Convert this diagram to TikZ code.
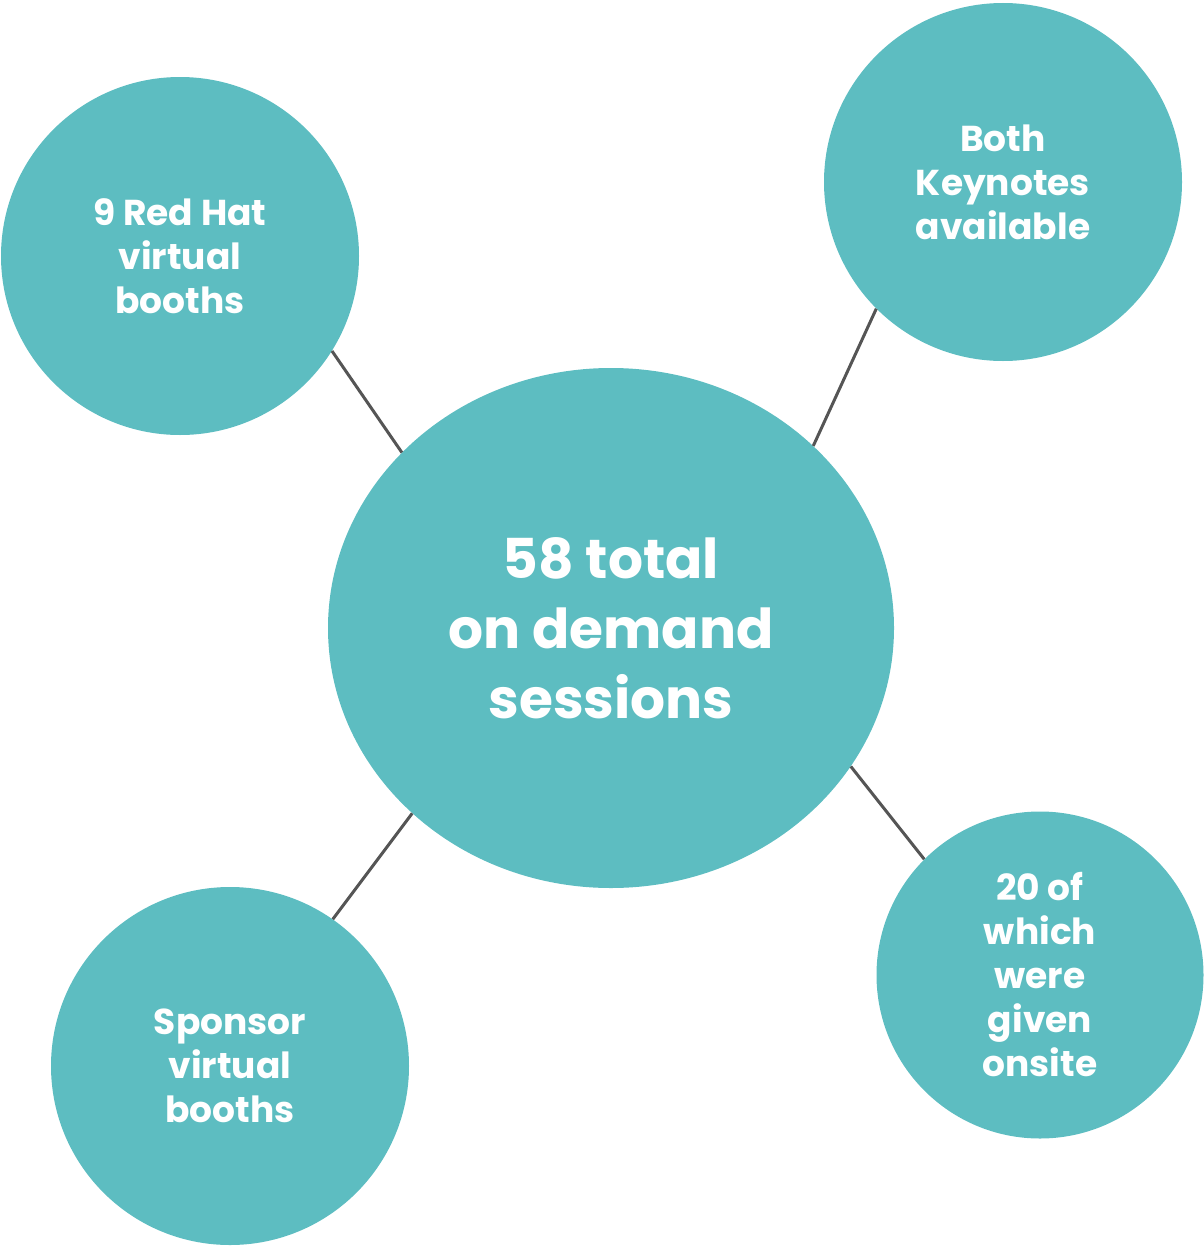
\documentclass[tikz,border=0pt]{standalone}
\usepackage{fontspec}
\setmainfont{Poppins}
\usetikzlibrary{shapes.geometric}
\definecolor{teal}{HTML}{5DBDC1}
\definecolor{linkgray}{HTML}{555555}
\tikzset{
  bubble/.style={circle, fill=teal, inner sep=0pt, minimum size=#1, text=white, align=center,
    font=\fontsize{36}{44}\selectfont\bfseries},
  hub/.style={ellipse, fill=teal, inner sep=0pt, minimum width=566pt, minimum height=520pt,
    text=white, align=center, font=\fontsize{55}{70}\selectfont\bfseries},
  link/.style={draw=linkgray, line width=3pt}
}
\begin{document}
\begin{tikzpicture}[x=1pt,y=-1pt]
\useasboundingbox (0,0) rectangle (1203,1247);
\node[hub] (c) at (611,628) {58 total\\on demand\\sessions};
\node[bubble=358pt] (tl) at (180,256) {9 Red Hat\\virtual\\booths};
\node[bubble=358pt] (tr) at (1003,182) {Both\\Keynotes\\available};
\node[bubble=358pt] (bl) at (230,1066) {Sponsor\\virtual\\booths};
\node[bubble=327pt] (br) at (1040,975) {20 of\\which\\were\\given\\onsite};
\draw[link] (tl.-32.4) -- (c.140.5);
\draw[link] (tr.-135.2) -- (c.42.5);
\draw[link] (bl.55.9) -- (c.-137.4);
\draw[link] (br.135) -- (c.-30.9);
\end{tikzpicture}
\end{document}
